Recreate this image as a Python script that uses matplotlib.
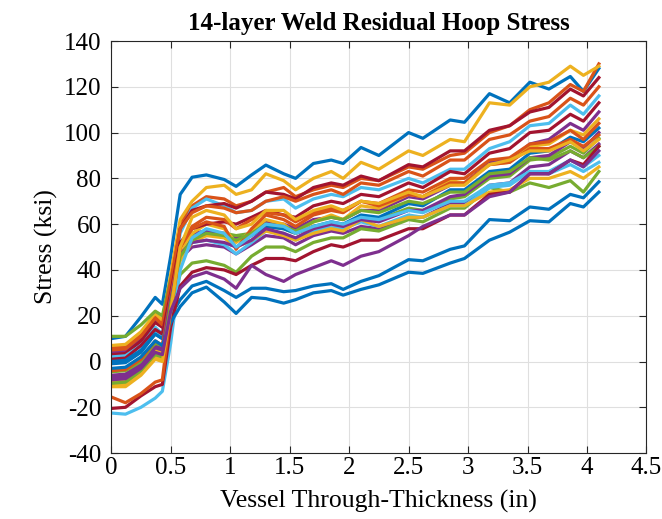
import matplotlib
matplotlib.use("Agg")
import matplotlib.pyplot as plt

plt.rcParams["font.family"] = ["Liberation Serif", "DejaVu Serif"]
plt.rcParams["axes.unicode_minus"] = False

# through-thickness positions (in) shared by every curve
x = [0, 0.12, 0.25, 0.37, 0.43, 0.5, 0.58, 0.68, 0.8, 0.95, 1.05, 1.18, 1.3, 1.45, 1.55,
     1.7, 1.85, 1.95, 2.1, 2.25, 2.5, 2.62, 2.85, 2.97, 3.18, 3.35, 3.52, 3.68, 3.86, 3.97, 4.1]

# hoop stress (ksi), one list per curve, in plotting order
s01 = [10, 11, 19.5, 28, 25, 46, 73, 80.5, 81.5, 79.5, 76.5, 81.5, 85.8, 82, 80, 86.5, 88, 86.5, 93.5, 90, 100, 97.5, 105.5, 104.5, 117, 113, 122, 119, 124.5, 118, 128]
s02 = [6, 6.5, 12, 20, 17, 36, 60, 68, 72, 71, 68, 70, 74, 76, 72, 75, 77, 76, 80, 79, 85, 84, 90, 91, 100, 103, 110, 113, 121, 118, 130]
s03 = [7, 7.5, 13, 21, 18, 38, 62, 70, 76, 77, 73, 75, 82, 79, 75, 80, 83, 80, 87, 84, 92, 90, 97, 96, 113, 112, 120, 122, 129, 125, 129]
s04 = [4, 4.5, 10, 18, 15, 33, 52, 56, 57, 56, 54, 56, 61, 60, 58, 62, 63, 62, 66, 66, 72, 71, 77, 78, 87, 88, 95, 97, 104, 101, 109]
s05 = [11, 11, 16, 22, 20, 36, 52, 55, 55, 56, 55, 56, 59, 58, 56, 59, 60, 59, 63, 62, 67, 66, 71, 72, 80, 81, 88, 89, 94, 91, 97.5]
s06 = [2, 2.5, 8, 15, 12, 32, 56, 67, 71, 68, 65, 66, 70, 71, 67, 71, 73, 72, 76, 75, 80, 78, 84, 84, 93, 96, 103, 104, 112, 108, 116]
s07 = [3, 3.5, 9, 17, 15, 33, 58, 66, 68, 69, 67, 70, 74, 73, 71, 76, 78, 77, 81, 79, 86, 85, 92, 92, 101, 103, 109, 111, 119, 116, 124]
s08 = [-1, -0.5, 4, 12, 10, 29, 48, 54, 56, 55, 53, 55, 59, 58, 56, 59, 61, 60, 64, 63, 69, 68, 75, 75, 83, 84, 91, 92, 98, 96, 102]
s09 = [5, 5.5, 11, 19, 16, 35, 58, 65, 68, 67, 65, 66, 70, 72, 70, 73, 75, 73, 78, 77, 83, 81, 88, 88, 97, 99, 105, 107, 115, 112, 120]
s10 = [-9, -8.5, -3, 5, 4, 26, 48, 56, 60, 58, 52, 57, 62, 60, 56, 61, 64, 62, 68, 67, 73, 72, 79, 78, 86, 87, 94, 95, 101, 99, 106]
s11 = [-6, -5.5, -1, 7, 6, 27, 45, 50, 51, 50, 47, 51, 55, 54, 51, 55, 57, 56, 59, 58, 63, 63, 69, 69, 77, 78, 85, 86, 92, 89, 95]
s12 = [-4.5, -4, 0, 8, 7, 24, 38, 43, 44, 42, 39, 46, 50, 50, 48, 52, 54, 54, 58, 57, 62, 61, 67, 67, 76, 74, 78, 76, 79, 74, 83]
s13 = [2, 2.5, 7, 13, 11, 29, 46, 52, 53, 51, 47, 52, 57, 56, 53, 57, 59, 58, 61, 59, 64, 63, 68, 68, 76, 77, 83, 83, 88, 85, 90]
s14 = [1, 1.5, 7, 14, 12, 30, 52, 58, 60, 61, 60, 63, 66, 64, 63, 68, 70, 69, 73, 72, 78, 76, 83, 82, 91, 93, 100, 101, 108, 105, 113]
s15 = [0, 0.5, 5, 12, 10, 20, 27, 33, 35, 31, 28, 32, 32, 30.5, 31, 33, 34, 31.5, 35, 37.5, 44.5, 44, 49, 50.5, 62, 61.5, 67.5, 66.5, 73, 71.5, 78.5]
s16 = [-4, -3.5, 1, 9, 7, 28, 50, 58, 61, 59, 49, 58, 64, 62, 59, 64, 66, 65, 70, 69, 75, 74, 80, 80, 88, 89, 95, 96, 101, 97, 104]
s17 = [-10, -10, -5, 2, 1, 24, 44, 52, 55, 54, 50, 53, 57, 55, 53, 56, 58, 57, 62, 59, 63, 63, 68, 68, 74, 75, 80, 80, 83, 80, 85]
s18 = [-7, -6.5, -2, 6, 5, 27, 47, 52, 53, 52, 50, 53, 58, 56, 54, 58, 60, 59, 62, 61, 66, 66, 72, 73, 81, 82, 89, 90, 96, 93, 100]
s19 = [-9.5, -9, -4, 3, 2, 25, 46, 53, 56, 55, 53, 56, 60, 59, 57, 61, 63, 62, 66, 65, 70, 69, 74, 74, 82, 83, 89, 88, 92, 89, 94]
s20 = [-22.5, -23, -20, -16, -13, 8, 40, 54, 58, 56, 50, 55, 60, 59, 56, 59, 61, 60, 63, 62, 66, 65, 70, 70, 77, 78, 83, 82, 86, 83, 87]
s21 = [-20.5, -20, -15, -11, -10, 15, 33, 39, 41, 40, 38, 42, 45, 45, 44, 48, 51, 50, 53, 53, 58, 58, 64, 64, 73, 74, 82, 82, 88, 86, 94]
s22 = [-3, -2.5, 2, 9, 7, 17, 24, 30, 32.5, 26, 21, 28, 27.5, 25.5, 27, 30, 31, 29, 31.5, 33.5, 39, 38.5, 43, 45, 53, 56.5, 61.5, 61, 69, 67.5, 74]
s23 = [-15.5, -18, -14, -9, -8, 22, 50, 59, 63, 62, 58, 62, 65, 64, 61, 65, 67, 66, 70, 68, 73, 72, 78, 78, 86, 87, 93, 93, 97, 94, 99]
s24 = [-11, -11, -6, 1, 0, 22, 50, 63, 66, 64, 58, 60, 66, 66, 62, 66, 68, 66, 70, 69, 74, 72, 77, 77, 86, 88, 92, 92, 96, 92, 97]
s25 = [-8, -7.5, -3, 4, 3, 22, 32, 37, 39, 36, 32, 42, 38, 35, 38, 41, 44, 42, 46, 48, 55, 59, 64, 64, 72, 74, 82, 82, 88, 85, 92]

curves = [s01, s02, s03, s04, s05, s06, s07, s08, s09, s10, s11, s12, s13, s14, s15,
          s16, s17, s18, s19, s20, s21, s22, s23, s24, s25]

# MATLAB default colour order
colors = ["#0072BD", "#D95319", "#EDB120", "#7E2F8E", "#77AC30", "#4DBEEE", "#A2142F"]

fig = plt.figure(figsize=(6.62, 5.19), dpi=100)
ax = fig.add_axes([0.168, 0.127, 0.8085, 0.794])

for i, y in enumerate(curves):
    ax.plot(x, y, color=colors[i % 7], lw=2.3, solid_joinstyle="round")

ax.set_xlim(0, 4.5)
ax.set_ylim(-40, 140)
ax.set_xticks([0, 0.5, 1, 1.5, 2, 2.5, 3, 3.5, 4, 4.5])
ax.set_xticklabels(["0", "0.5", "1", "1.5", "2", "2.5", "3", "3.5", "4", "4.5"])
ax.set_yticks(range(-40, 141, 20))
ax.grid(True, color="#dfdfdf", lw=0.8)
ax.set_axisbelow(True)
ax.tick_params(direction="in", top=True, right=True, labelsize=18, length=5,
               color="#262626")
ax.tick_params(axis="x", pad=3)
ax.tick_params(axis="y", pad=7)
for sp in ax.spines.values():
    sp.set_color("#262626")
    sp.set_linewidth(0.8)

ax.set_xlabel("Vessel Through-Thickness (in)", fontsize=18.5, labelpad=8)
ax.set_ylabel("Stress (ksi)", fontsize=18.5, labelpad=4)
ax.set_title("14-layer Weld Residual Hoop Stress", fontsize=18, fontweight="bold", pad=8)

fig.savefig("out.png", dpi=100)
